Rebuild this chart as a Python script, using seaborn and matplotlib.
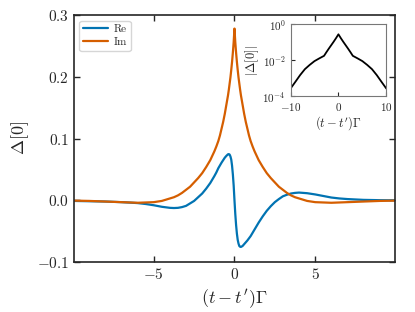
# ===================== IMPORTS =====================
import numpy as np
import pandas as pd
import seaborn as sns
import matplotlib
matplotlib.use("Agg")
import matplotlib.pyplot as plt

sns.set_style("ticks")
plt.rcParams["font.family"] = "serif"
plt.rcParams["font.serif"] = ["cmr10", "DejaVu Serif"]
plt.rcParams["mathtext.fontset"] = "cm"
plt.rcParams["axes.formatter.use_mathtext"] = True

# ===================== DATA =====================
# positive half of the time axis, the negative half mirrors it
t_pos = [0, 0.05, 0.1, 0.15, 0.2, 0.25, 0.3, 0.35, 0.4, 0.5, 0.6, 0.7,
         0.8, 0.9, 1.0, 1.125, 1.25, 1.5, 1.75, 2, 2.25, 2.5, 2.75, 3,
         3.25, 3.5, 3.75, 4, 4.5, 5, 5.5, 6, 6.5, 7, 8, 9, 10]

# Re for t >= 0 (same order as t_pos)
re_pos = [0.0, -0.022, -0.040, -0.054, -0.064, -0.070, -0.074, -0.0752,
          -0.0755, -0.074, -0.071, -0.068, -0.065, -0.0615, -0.058,
          -0.0525, -0.047, -0.036, -0.026, -0.017, -0.0095, -0.003,
          0.002, 0.0065, 0.009, 0.011, 0.012, 0.0125, 0.0115, 0.0095,
          0.007, 0.0045, 0.003, 0.002, 0.0007, 0.0002, 0.0]

# Re for t < 0, from t = -0.05 down to t = -10
re_neg = [0.024, 0.042, 0.056, 0.066, 0.071, 0.074, 0.0748, 0.0745,
          0.072, 0.069, 0.065, 0.061, 0.0565, 0.052, 0.045, 0.039,
          0.028, 0.019, 0.011, 0.005, -0.001, -0.005, -0.009, -0.011,
          -0.0122, -0.0125, -0.0122, -0.0105, -0.008, -0.006, -0.0045,
          -0.0037, -0.003, -0.002, -0.0015, -0.001]

# Im is even in t
im_pos = [0.278, 0.256, 0.239, 0.224, 0.211, 0.199, 0.189, 0.179, 0.170,
          0.155, 0.140, 0.127, 0.116, 0.105, 0.096, 0.087, 0.079, 0.065,
          0.054, 0.044, 0.036, 0.029, 0.022, 0.017, 0.012, 0.008, 0.005,
          0.003, -0.001, -0.003, -0.0035, -0.004, -0.0035, -0.003,
          -0.002, -0.001, -0.0005]

# inset: |Delta[0]| on log scale
t_inset = [-10, -9, -8, -7, -6, -5, -4, -3, -2.5, -2, -1.5, -1, -0.5,
           0, 0.5, 1, 1.5, 2, 2.5, 3, 4, 5, 6, 7, 8, 9, 10]
abs_vals = [2.7e-4, 6.3e-4, 1.5e-3, 3.2e-3, 5.5e-3, 8.9e-3, 1.26e-2,
            1.75e-2, 2.8e-2, 4.4e-2, 6.8e-2, 0.105, 0.166,
            0.27, 0.166, 0.105, 6.8e-2, 4.4e-2, 2.8e-2, 1.75e-2,
            1.26e-2, 8.9e-3, 5.5e-3, 3.2e-3, 1.5e-3, 6.3e-4, 2.7e-4]

t = [-x for x in reversed(t_pos[1:])] + t_pos
re_vals = list(reversed(re_neg)) + re_pos
im_vals = list(reversed(im_pos[1:])) + im_pos

df = pd.DataFrame({"t": t, "Re": re_vals, "Im": im_vals})
df_long = df.melt(id_vars="t", var_name="part", value_name="delta")
df_in = pd.DataFrame({"t": t_inset, "abs": abs_vals})

palette = {"Re": "#0173B2", "Im": "#D55E00"}

# ===================== MAIN PLOT =====================
fig = plt.figure(figsize=(4.15, 3.12), dpi=100)
ax = fig.add_axes([0.178, 0.160, 0.774, 0.792])

sns.lineplot(data=df_long, x="t", y="delta", hue="part", palette=palette,
             linewidth=1.6, ax=ax, sort=False)

ax.set_xlim(-9.95, 9.95)
ax.set_ylim(-0.1, 0.3)
ax.set_xticks([-5, 0, 5])
ax.set_yticks([-0.1, 0.0, 0.1, 0.2, 0.3])
ax.tick_params(direction="in", top=True, right=True, length=4,
               width=1, labelsize=11)
for sp in ax.spines.values():
    sp.set_linewidth(1.2)
ax.set_xlabel(r"$(t-t')\Gamma$", fontsize=13)
ax.set_ylabel(r"$\Delta[0]$", fontsize=13)

leg = ax.legend(loc="upper left", fontsize=8, handlelength=2.2,
                borderpad=0.35, labelspacing=0.3, handletextpad=0.5)
leg.set_title(None)

# ===================== INSET =====================
axin = fig.add_axes([0.700, 0.691, 0.231, 0.232])
sns.lineplot(data=df_in, x="t", y="abs", color="black", linewidth=1.3,
             ax=axin)
axin.set_yscale("log")
axin.set_xlim(-10, 10)
axin.set_ylim(1e-4, 1)
axin.set_xticks([-10, 0, 10])
axin.set_yticks([1e-4, 1e-2, 1])
axin.minorticks_off()
axin.tick_params(direction="in", length=3, labelsize=8)
for sp in axin.spines.values():
    sp.set_color("#777777")
    sp.set_linewidth(0.8)
axin.set_xlabel(r"$(t-t')\Gamma$", fontsize=9, labelpad=1)
axin.set_ylabel(r"$|\Delta[0]|$", fontsize=9, labelpad=1)

fig.savefig("out.png", dpi=100)
